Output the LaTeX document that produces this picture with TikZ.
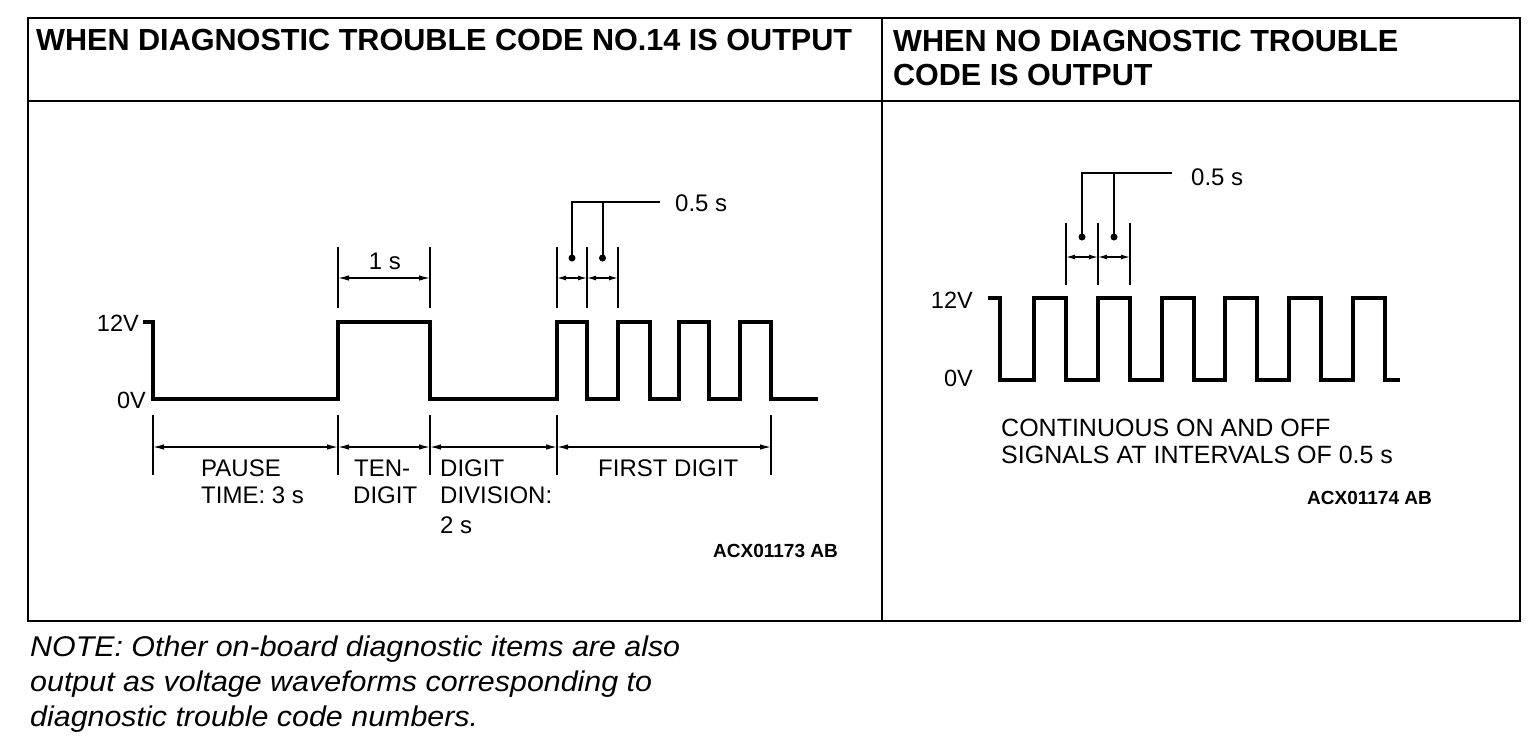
\documentclass[tikz,border=0pt]{standalone}
\usepackage{fontspec}
\setmainfont{Liberation Sans}
\usepackage{graphicx}
\usetikzlibrary{arrows.meta}
\newsavebox\fitbox
\newcommand\fitw[2]{\sbox\fitbox{#2}\pgfmathsetmacro\fitsx{#1/\the\wd\fitbox}\scalebox{\fitsx}[1]{\usebox\fitbox}}
\begin{document}
\begin{tikzpicture}[x=1pt,y=-1pt,
  frame/.style={line width=1.9pt},
  wave/.style={line width=4pt, line join=miter},
  dim/.style={line width=1.3pt},
  dimarr/.style={line width=1.3pt, {Latex[length=11pt,width=5.5pt]}-{Latex[length=11pt,width=5.5pt]}},
  smarr/.style={line width=1.3pt, {Latex[length=9pt,width=5pt]}-{Latex[length=9pt,width=5pt]}},
  lead/.style={line width=2pt},
  hdr/.style={inner sep=0pt, font=\fontsize{30.5}{36}\selectfont\bfseries},
  lbl/.style={inner sep=0pt, font=\fontsize{24}{28}\selectfont},
  vlab/.style={inner sep=0pt, font=\fontsize{23.5}{28}\selectfont},
  rlbl/.style={inner sep=0pt, font=\fontsize{25}{29}\selectfont},
  code/.style={inner sep=0pt, font=\fontsize{19}{22}\selectfont\bfseries},
  note/.style={inner sep=0pt, font=\fontsize{28.5}{33}\selectfont\itshape},
]
\useasboundingbox (0,0) rectangle (1536,748);
\fill[white] (0,0) rectangle (1536,748);

% frame
\draw[frame] (28,18) rectangle (1520,621);
\draw[frame] (28,101) -- (1520,101);
\draw[frame] (882,18) -- (882,621);

% headers
\node[hdr, anchor=base west] (h1) at (36,50) {\fitw{816}{WHEN DIAGNOSTIC TROUBLE CODE NO.14 IS OUTPUT}};
\node[hdr, anchor=base west] (h2a) at (893,51) {\fitw{505}{WHEN NO DIAGNOSTIC TROUBLE}};
\node[hdr, anchor=base west] (h2b) at (893,85) {CODE IS OUTPUT};

% ---------- left waveform ----------
\draw[wave] (143,322) -- (153,322) -- (153,399) -- (338,399) -- (338,322) -- (430,322) -- (430,399)
  -- (557,399) -- (557,322) -- (587,322) -- (587,399) -- (618,399) -- (618,322) -- (650,322) -- (650,399)
  -- (679,399) -- (679,322) -- (709,322) -- (709,399) -- (740,399) -- (740,322) -- (771,322) -- (771,399)
  -- (818,399);
\node[vlab, anchor=base east] (l12) at (139,331) {12V};
\node[vlab, anchor=base east] (l0) at (146,408) {0V};

% 1 s dimension
\draw[dim] (338,247) -- (338,308);
\draw[dim] (430,247) -- (430,308);
\draw[dimarr] (338,278) -- (430,278);
\node[lbl, anchor=base] (t1s) at (385,269) {1 s};

% 0.5 s dimension (left)
\draw[dim] (557,247) -- (557,308);
\draw[dim] (587,247) -- (587,308);
\draw[dim] (618,247) -- (618,308);
\draw[smarr] (557,278) -- (587,278);
\draw[smarr] (587,278) -- (618,278);
\coordinate (ld1) at (572,258);
\coordinate (ld2) at (602.5,258);
\fill (ld1) circle[radius=3.5pt];
\fill (ld2) circle[radius=3.5pt];
\node[lbl, anchor=base west] (t05a) at (675,211) {0.5 s};
\draw[lead] (ld1) -- (572,202) -- (660,202);
\draw[lead] (ld2) -- (602.5,202);

% bottom dimensions (left)
\foreach \xx in {153,338,430,557,771} \draw[dim] (\xx,415) -- (\xx,475);
\draw[dimarr] (153,447) -- (338,447);
\draw[dimarr] (338,447) -- (430,447);
\draw[dimarr] (430,447) -- (557,447);
\draw[dimarr] (557,447) -- (771,447);

\node[lbl, anchor=base west] (pa1) at (201,476) {PAUSE};
\node[lbl, anchor=base west] (pa2) at (201,503) {TIME: 3 s};
\node[lbl, anchor=base west] (te1) at (354,476) {TEN-};
\node[lbl, anchor=base west] (te2) at (353,503) {DIGIT};
\node[lbl, anchor=base west] (dd1) at (440,476) {DIGIT};
\node[lbl, anchor=base west] (dd2) at (440,503) {DIVISION:};
\node[lbl, anchor=base west] (dd3) at (440,533) {2 s};
\node[lbl, anchor=base west] (fd) at (598,476) {FIRST DIGIT};
\node[code, anchor=base east] (c1) at (838,557) {ACX01173 AB};

% ---------- right waveform ----------
\draw[wave] (988,298) -- (1000,298) -- (1000,380) -- (1034,380) -- (1034,298) -- (1066,298) -- (1066,380)
  -- (1098,380) -- (1098,298) -- (1130,298) -- (1130,380) -- (1162,380) -- (1162,298) -- (1194,298)
  -- (1194,380) -- (1225,380) -- (1225,298) -- (1257,298) -- (1257,380) -- (1289,380) -- (1289,298)
  -- (1321,298) -- (1321,380) -- (1353,380) -- (1353,298) -- (1385,298) -- (1385,380) -- (1400,380);
\node[vlab, anchor=base east] (r12) at (973,308) {12V};
\node[vlab, anchor=base east] (r0) at (973,386) {0V};

\draw[dim] (1066,223) -- (1066,285);
\draw[dim] (1098,223) -- (1098,285);
\draw[dim] (1130,223) -- (1130,285);
\draw[smarr] (1066,257) -- (1098,257);
\draw[smarr] (1098,257) -- (1130,257);
\coordinate (rd1) at (1082,237);
\coordinate (rd2) at (1114,237);
\fill (rd1) circle[radius=3.5pt];
\fill (rd2) circle[radius=3.5pt];
\node[lbl, anchor=base west] (t05b) at (1191,185) {0.5 s};
\draw[lead] (rd1) -- (1082,173) -- (1172,173);
\draw[lead] (rd2) -- (1114,173);

\node[rlbl, anchor=base west] (co1) at (1001,436) {CONTINUOUS ON AND OFF};
\node[rlbl, anchor=base west] (co2) at (1001,463) {SIGNALS AT INTERVALS OF 0.5 s};
\node[code, anchor=base east] (c2) at (1432,504) {ACX01174 AB};

% ---------- note ----------
\node[note, anchor=base west] (n1) at (30,656) {\fitw{650}{NOTE: Other on-board diagnostic items are also}};
\node[note, anchor=base west] (n2) at (30,691) {\fitw{622}{output as voltage waveforms corresponding to}};
\node[note, anchor=base west] (n3) at (30,726) {\fitw{448}{diagnostic trouble code numbers.}};
\end{tikzpicture}
\end{document}
